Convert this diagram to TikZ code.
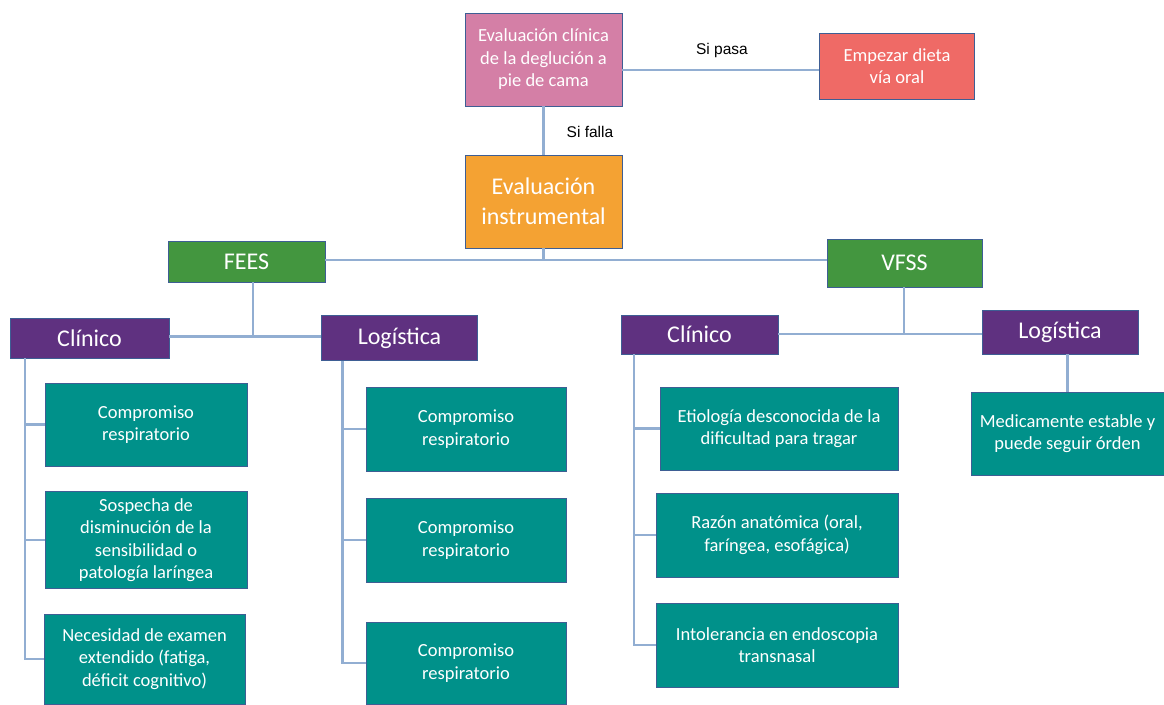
\documentclass[tikz,border=0pt]{standalone}
\usepackage{fontspec}
\setmainfont{Carlito}
\newfontfamily\labelfont{Liberation Sans}
\definecolor{pinkfill}{HTML}{D47FA6}
\definecolor{redfill}{HTML}{EF6A66}
\definecolor{orangefill}{HTML}{F4A233}
\definecolor{greenfill}{HTML}{43963F}
\definecolor{purplefill}{HTML}{5F3180}
\definecolor{tealfill}{HTML}{00918A}
\definecolor{boxedge}{HTML}{3E5E94}
\definecolor{linkcol}{HTML}{92AED2}
\begin{document}
\begin{tikzpicture}[x=1pt,y=-1pt,
  box/.style={draw=boxedge, line width=0.7pt, text=white, align=center, inner sep=0pt},
  small/.style={box, font=\fontsize{18.5}{22.5}\selectfont},
  big/.style={box, font=\fontsize{24}{29.5}\selectfont},
  item/.style={small, fill=tealfill},
  head/.style={big, fill=purplefill},
  method/.style={big, fill=greenfill},
  link/.style={draw=linkcol, line width=2.2pt},
  note/.style={font=\labelfont\fontsize{15.5}{18}\selectfont, inner sep=0pt}]
\useasboundingbox (0,0) rectangle (1164,704);

% top of the flow
\node[small, fill=pinkfill, minimum width=157, minimum height=93] (eval) at (543.5,59.5)
  {Evaluación clínica\\de la deglución a\\pie de cama};
\node[small, fill=redfill, minimum width=155, minimum height=66] (dieta) at (897,66)
  {Empezar dieta\\vía oral};
\node[big, fill=orangefill, minimum width=157, minimum height=93] (instr) at (543.5,201.5)
  {Evaluación\\instrumental};
\node[note] (pasa) at (722,50) {Si pasa};
\node[note] (falla) at (590,132) {Si falla};

% the two instrumental methods
\node[method, minimum width=157, minimum height=41] (fees) at (246.5,261.5) {FEES};
\node[method, minimum width=155, minimum height=48] (vfss) at (904.5,263) {VFSS};

% criteria headings
\node[head, minimum width=159, minimum height=40] (clin1) at (89.5,338) {Clínico};
\node[head, minimum width=156, minimum height=45] (log1) at (399.5,338) {Logística};
\node[head, minimum width=157, minimum height=39] (clin2) at (699.5,334.5) {Clínico};
\node[head, minimum width=156, minimum height=44] (log2) at (1060,332) {Logística};

% FEES, clinical criteria
\node[item, minimum width=202, minimum height=83] (l1) at (146,424.5) {Compromiso\\respiratorio};
\node[item, minimum width=202, minimum height=97] (l2) at (146,540) {Sospecha de\\disminución de la\\sensibilidad o\\patología laríngea};
\node[item, minimum width=201, minimum height=90] (l3) at (144.5,659) {Necesidad de examen\\extendido (fatiga,\\déficit cognitivo)};

% FEES, logistic criteria
\node[item, minimum width=200, minimum height=84] (m1) at (466,429) {Compromiso\\respiratorio};
\node[item, minimum width=200, minimum height=84] (m2) at (466,540) {Compromiso\\respiratorio};
\node[item, minimum width=200, minimum height=82] (m3) at (466,663) {Compromiso\\respiratorio};

% VFSS, clinical criteria
\node[item, minimum width=238, minimum height=83] (r1) at (779,428.5) {Etiología desconocida de la\\dificultad para tragar};
\node[item, minimum width=242, minimum height=84] (r2) at (777,535) {Razón anatómica (oral,\\faríngea, esofágica)};
\node[item, minimum width=242, minimum height=84] (r3) at (777,645) {Intolerancia en endoscopia\\transnasal};

% VFSS, logistic criteria
\node[item, minimum width=193, minimum height=83] (r4) at (1067.5,433.5) {Medicamente estable y\\puede seguir órden};

% connectors
\coordinate (passy) at (0,70);
\draw[link] (eval.east |- passy) -- (dieta.west |- passy);
\draw[link] (eval.south) -- (instr.north);

\coordinate (jt) at (543.5,260);
\draw[link] (instr.south) -- (jt);
\draw[link] (fees.east |- jt) -- (vfss.west |- jt);

\coordinate (jf) at (253,336.5);
\draw[link] (fees.south -| jf) -- (jf);
\draw[link] (clin1.east |- jf) -- (log1.west |- jf);

\coordinate (jv) at (904,334);
\draw[link] (vfss.south -| jv) -- (jv);
\draw[link] (clin2.east |- jv) -- (log2.west |- jv);

\coordinate (t1) at (25,0);
\draw[link] (clin1.south -| t1) |- (l3.west);
\draw[link] (t1 |- l1.west) -- (l1.west);
\draw[link] (t1 |- l2.west) -- (l2.west);

\coordinate (t2) at (342.5,0);
\draw[link] (log1.south -| t2) |- (m3.west);
\draw[link] (t2 |- m1.west) -- (m1.west);
\draw[link] (t2 |- m2.west) -- (m2.west);

\coordinate (t3) at (634,0);
\draw[link] (clin2.south -| t3) |- (r3.west);
\draw[link] (t3 |- r1.west) -- (r1.west);
\draw[link] (t3 |- r2.west) -- (r2.west);

\draw[link] (r4.north |- log2.south) -- (r4.north);
\end{tikzpicture}
\end{document}
